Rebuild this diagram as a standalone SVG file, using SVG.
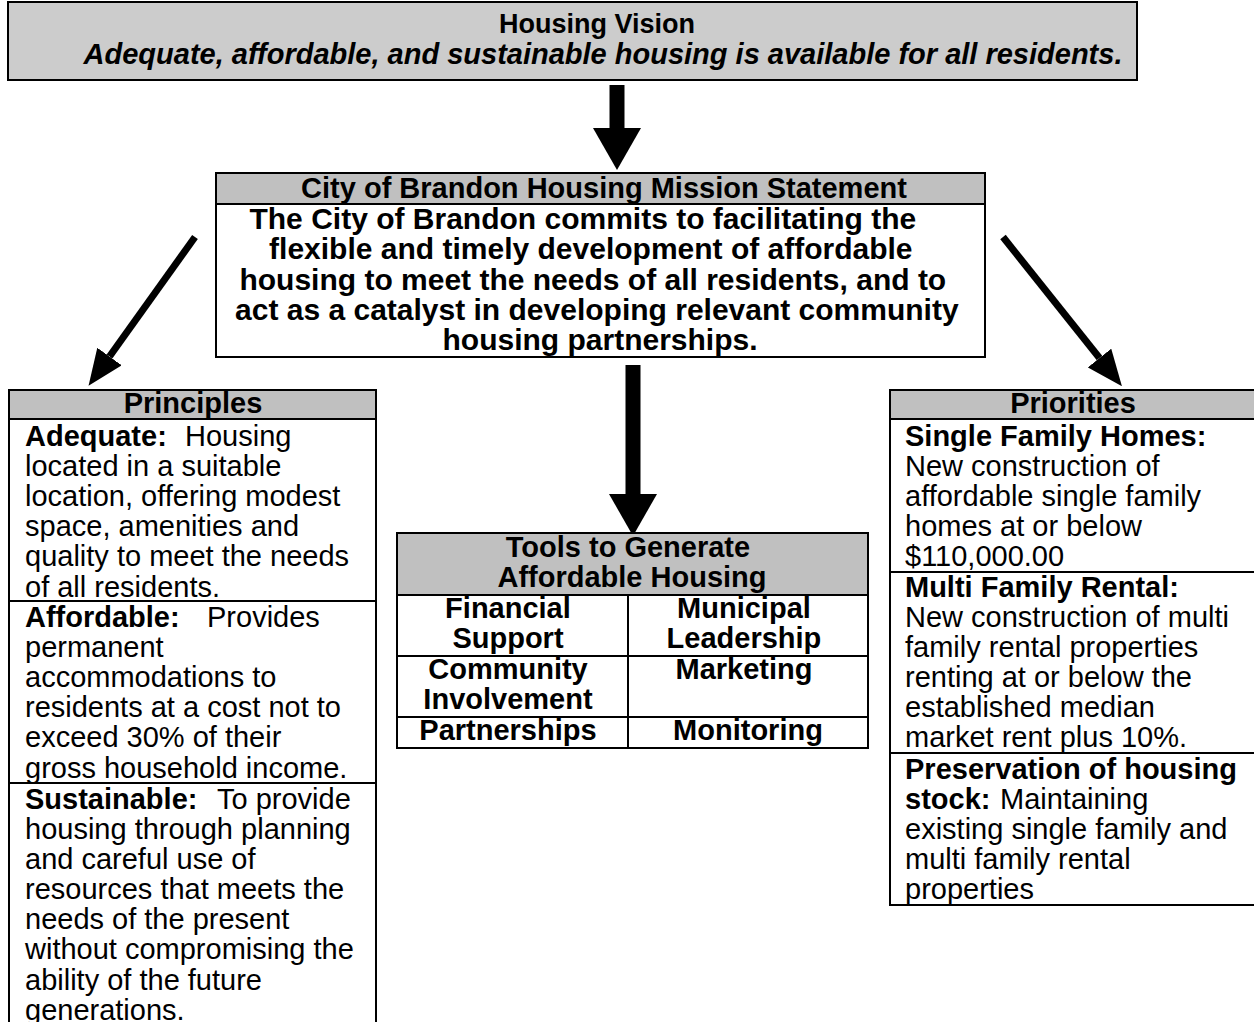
<svg xmlns="http://www.w3.org/2000/svg" width="1254" height="1022" viewBox="0 0 1254 1022">
<defs>
<style>
text{font-family:"Liberation Sans",Arial,Helvetica,sans-serif;fill:#000}
.t{font-size:29px}
.b{font-weight:bold}
.i{font-style:italic}
.c{text-anchor:middle}
.box{fill:#fff;stroke:#000;stroke-width:2}
.hdr{fill:#c0c0c0;stroke:#000;stroke-width:2}
.ln{stroke:#000;stroke-width:2;fill:none}
.thin{stroke:#000;stroke-width:7;fill:none}
.thick{stroke:#000;stroke-width:15;fill:none}
</style>
<marker id="hs" viewBox="0 0 36 30" refX="0" refY="15" markerWidth="36" markerHeight="30" markerUnits="userSpaceOnUse" orient="auto">
<path d="M0,0 L36,15 L0,30 Z" fill="#000"/>
</marker>
<marker id="hb" viewBox="0 0 42 48" refX="0" refY="24" markerWidth="42" markerHeight="48" markerUnits="userSpaceOnUse" orient="auto">
<path d="M0,0 L42,24 L0,48 Z" fill="#000"/>
</marker>
</defs>

<g id="connectors">
<line class="thick" x1="617" y1="85" x2="617" y2="128" marker-end="url(#hb)"/>
<line class="thin" x1="195" y1="237" x2="109.5" y2="356.5" marker-end="url(#hs)"/>
<line class="thin" x1="1003" y1="237" x2="1099.5" y2="358" marker-end="url(#hs)"/>
<line class="thick" x1="633" y1="365" x2="633" y2="494" stroke-width="16" marker-end="url(#hb)"/>
</g>

<g id="vision">
<rect x="8" y="2" width="1129" height="78" fill="#cccccc" stroke="#000" stroke-width="2"/>
<text class="b c" x="597" y="33" font-size="27">Housing Vision</text>
<text class="t b i c" x="603" y="64">Adequate, affordable, and sustainable housing is available for all residents.</text>
</g>

<g id="mission">
<rect class="box" x="216" y="173" width="769" height="184"/>
<rect class="hdr" x="216" y="173" width="769" height="31"/>
<text class="t b c" x="604" y="198">City of Brandon Housing Mission Statement</text>
<text class="b c" x="601" font-size="30">
<tspan x="587" y="229">The City of Brandon commits to facilitating the</tspan>
<tspan x="595" y="259">flexible and timely development of affordable</tspan>
<tspan x="597" y="290">housing to meet the needs of all residents, and to</tspan>
<tspan x="601" y="320">act as a catalyst in developing relevant community</tspan>
<tspan x="600" y="350">housing partnerships.</tspan>
</text>
</g>

<g id="principles">
<rect class="hdr" x="9" y="390" width="367" height="29"/>
<path class="ln" d="M9,419 V1024 M376,419 V1024 M9,601 H376 M9,783 H376"/>
<text class="t b c" x="193" y="413">Principles</text>
<text class="t" x="25">
<tspan x="25" y="446" class="b">Adequate:</tspan><tspan x="185" y="446">Housing</tspan>
<tspan x="25" y="476">located in a suitable</tspan>
<tspan x="25" y="506">location, offering modest</tspan>
<tspan x="25" y="536">space, amenities and</tspan>
<tspan x="25" y="566">quality to meet the needs</tspan>
<tspan x="25" y="597">of all residents.</tspan>
<tspan x="25" y="627" class="b">Affordable:</tspan><tspan x="207" y="627">Provides</tspan>
<tspan x="25" y="657">permanent</tspan>
<tspan x="25" y="687">accommodations to</tspan>
<tspan x="25" y="717">residents at a cost not to</tspan>
<tspan x="25" y="747">exceed 30% of their</tspan>
<tspan x="25" y="778">gross household income.</tspan>
<tspan x="25" y="809" class="b">Sustainable:</tspan><tspan x="217" y="809">To provide</tspan>
<tspan x="25" y="839">housing through planning</tspan>
<tspan x="25" y="869">and careful use of</tspan>
<tspan x="25" y="899">resources that meets the</tspan>
<tspan x="25" y="929">needs of the present</tspan>
<tspan x="25" y="959">without compromising the</tspan>
<tspan x="25" y="990">ability of the future</tspan>
<tspan x="25" y="1020">generations.</tspan>
</text>
</g>

<g id="tools">
<rect class="box" x="397" y="533" width="471" height="215"/>
<rect class="hdr" x="397" y="533" width="471" height="62"/>
<path class="ln" d="M628,595 V748 M397,656 H868 M397,717 H868"/>
<text class="t b c" x="632">
<tspan x="632" y="557">Tools to Generate</tspan>
<tspan x="632" y="587">Affordable Housing</tspan>
</text>
<text class="t b c">
<tspan x="512" y="618">Financial</tspan>
<tspan x="512" y="648">Support</tspan>
<tspan x="512" y="679">Community</tspan>
<tspan x="512" y="709">Involvement</tspan>
<tspan x="512" y="740">Partnerships</tspan>
<tspan x="748" y="618">Municipal</tspan>
<tspan x="748" y="648">Leadership</tspan>
<tspan x="748" y="679">Marketing</tspan>
<tspan x="748" y="740">Monitoring</tspan>
</text>
</g>

<g id="priorities">
<rect class="box" x="890" y="390" width="366" height="515"/>
<rect class="hdr" x="890" y="390" width="366" height="29"/>
<path class="ln" d="M890,572 H1256 M890,753 H1256"/>
<text class="t b c" x="1073" y="413">Priorities</text>
<text class="t" x="905">
<tspan x="905" y="446" class="b">Single Family Homes:</tspan>
<tspan x="905" y="476">New construction of</tspan>
<tspan x="905" y="506">affordable single family</tspan>
<tspan x="905" y="536">homes at or below</tspan>
<tspan x="905" y="566">$110,000.00</tspan>
<tspan x="905" y="597" class="b">Multi Family Rental:</tspan>
<tspan x="905" y="627">New construction of multi</tspan>
<tspan x="905" y="657">family rental properties</tspan>
<tspan x="905" y="687">renting at or below the</tspan>
<tspan x="905" y="717">established median</tspan>
<tspan x="905" y="747">market rent plus 10%.</tspan>
<tspan x="905" y="779" class="b">Preservation of housing</tspan>
<tspan x="905" y="809" class="b">stock:</tspan><tspan x="1000" y="809">Maintaining</tspan>
<tspan x="905" y="839">existing single family and</tspan>
<tspan x="905" y="869">multi family rental</tspan>
<tspan x="905" y="899">properties</tspan>
</text>
</g>
</svg>
